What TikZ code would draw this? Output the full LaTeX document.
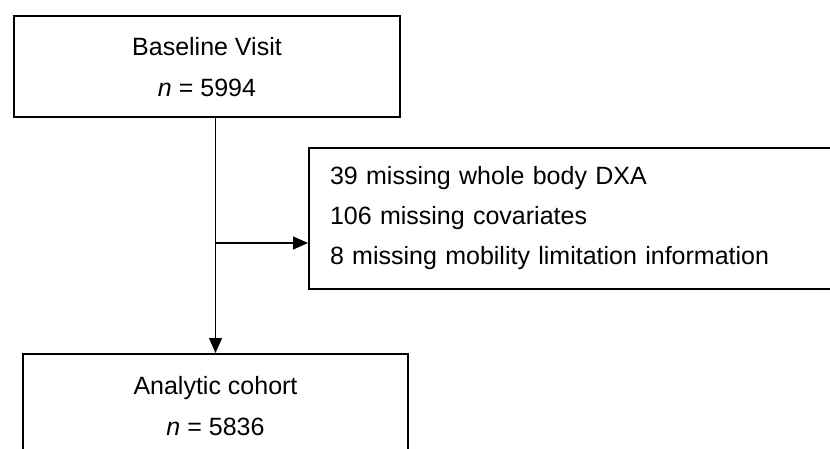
\documentclass[tikz,border=0pt]{standalone}
\usepackage{fontspec}
\setmainfont{Liberation Sans}
\usetikzlibrary{arrows.meta}
\begin{document}
\begin{tikzpicture}[x=1pt,y=1pt,
  box/.style={draw=black, line width=2pt, align=center, inner sep=0pt,
    font=\fontsize{25}{41}\selectfont},
  sidebox/.style={draw=black, line width=2pt, align=left, inner xsep=21pt, inner ysep=0pt,
    text width=489pt, minimum height=141pt,
    font=\fontsize{25}{40}\selectfont},
  conn/.style={line width=1.2pt, -{Triangle[length=15pt,width=13pt]}}]
\useasboundingbox (0,0) rectangle (830,448);
\clip (0,0) rectangle (830,448);
\fill[white] (0,0) rectangle (830,448);
\node[box, minimum width=386pt, minimum height=101pt] (top) at (207,381) {Baseline Visit\\\textit{n} = 5994};
\node[box, minimum width=385pt, minimum height=105pt] (bot) at (215.5,41.5) {Analytic cohort\\\textit{n} = 5836};
\node[sidebox] (side) at (574.5,229.5) {39 missing whole body DXA\\106 missing covariates\\8 missing mobility limitation information};
\draw[conn] (top.south -| bot.north) -- (bot.north);
\coordinate (br) at (bot.north |- 0,205);
\draw[conn] (br) -- (br -| side.west);
\end{tikzpicture}
\end{document}
